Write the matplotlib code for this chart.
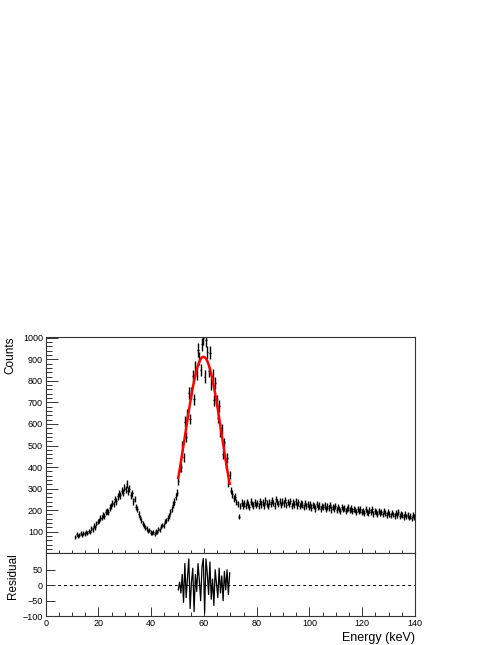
#!/usr/bin/env python3
from __future__ import annotations

import numpy as np
import matplotlib
matplotlib.use('Agg')
import matplotlib.pyplot as plt
from matplotlib.ticker import MultipleLocator

plt.rcParams['font.family'] = ['Liberation Sans', 'DejaVu Sans']

# histogram: 0.5 keV bins from 11 to 140 keV
BIN_LOW = 11.0
BIN_WIDTH = 0.5

counts = [
    76, 88, 79, 84, 92, 83, 95, 89, 98, 94,
    104, 98, 116, 111, 127, 121, 138, 146, 152, 163,
    165, 178, 172, 190, 198, 191, 212, 220, 234, 228,
    252, 241, 265, 276, 268, 290, 281, 305, 296, 322,
    289, 300, 268, 278, 241, 252, 214, 205, 182, 166,
    151, 138, 127, 118, 116, 104, 108, 96, 92, 99,
    90, 101, 97, 112, 108, 123, 131, 127, 146, 152,
    164, 172, 191, 205, 226, 240, 262, 281,
    335, 396, 398, 497, 446, 611, 541, 646, 745, 623,
    744, 823, 714, 862, 832, 943, 904, 851, 969, 998,
    820, 988, 932, 846, 931, 787, 825, 709, 791, 710,
    628, 683, 563, 578, 459, 514, 415, 442, 327, 362,
    290, 275, 255, 262, 238, 229, 170, 218, 235, 222,
    231, 219, 238, 226, 214, 240, 229, 221, 236, 225,
    233, 218, 241, 227, 236, 222, 245, 230, 219, 238,
    228, 246, 234, 221, 252, 237, 229, 243, 225, 239,
    232, 247, 224, 238, 229, 243, 220, 235, 227, 241,
    222, 236, 218, 231, 226, 213, 234, 220, 229, 215,
    227, 212, 224, 218, 208, 229, 215, 221, 206, 219,
    213, 222, 205, 217, 210, 224, 203, 214, 208, 219,
    201, 213, 207, 196, 215, 204, 210, 198, 206, 212,
    199, 208, 194, 205, 201, 190, 207, 196, 203, 192,
    198, 187, 204, 193, 185, 199, 191, 203, 184, 196,
    190, 182, 197, 186, 193, 180, 194, 185, 178, 191,
    184, 175, 189, 180, 172, 186, 178, 191, 174, 182,
    176, 168, 183, 171, 179, 165, 174, 162, 177, 169,
]

# fitted curve (red) read at the bin centres of the 50-70 keV fit range
FIT_RANGE = (50.0, 70.0)
fit_counts = [
    350, 386, 423, 462, 501, 541, 581, 621, 660, 698,
    734, 768, 799, 827, 852, 873, 889, 901, 909, 912,
    910, 903, 892, 876, 856, 832, 805, 774, 741, 705,
    668, 628, 588, 548, 509, 469, 430, 392, 357, 322,
]

x_ticks = [0, 20, 40, 60, 80, 100, 120, 140]
y_ticks = [100, 200, 300, 400, 500, 600, 700, 800, 900, 1000]
res_ticks = [-100, -50, 0, 50]


def style_axis(ax, ymajor_len, yminor_len, xmajor_len, xminor_len) -> None:
    for sp in ax.spines.values():
        sp.set_linewidth(0.8)
        sp.set_color('#333333')
    ax.tick_params(axis='both', which='both', direction='in', top=False, right=False,
                   labelsize=6.5, pad=2, width=0.7, color='#333333')
    ax.tick_params(axis='y', which='major', length=ymajor_len)
    ax.tick_params(axis='y', which='minor', length=yminor_len)
    ax.tick_params(axis='x', which='major', length=xmajor_len)
    ax.tick_params(axis='x', which='minor', length=xminor_len)


def main() -> None:
    y = np.array(counts, dtype=float)
    centers = BIN_LOW + BIN_WIDTH * (np.arange(len(y)) + 0.5)
    in_fit = (centers > FIT_RANGE[0]) & (centers < FIT_RANGE[1])
    fit_x = centers[in_fit]
    fit_y = np.array(fit_counts, dtype=float)
    residual = y[in_fit] - fit_y

    fig = plt.figure(figsize=(4.98, 6.45), dpi=100)
    ax1 = fig.add_axes([0.0918, 0.1426, 0.7415, 0.3354])
    ax2 = fig.add_axes([0.0918, 0.0445, 0.7415, 0.0981], sharex=ax1)

    ax1.errorbar(centers, y, xerr=BIN_WIDTH / 2, yerr=np.sqrt(y), fmt='none',
                 ecolor='black', elinewidth=1.0, capsize=0, zorder=2)
    ax1.plot(fit_x, fit_y, color='#ff0000', linewidth=1.8, zorder=3)
    ax1.set_xlim(0, 140)
    ax1.set_ylim(1, 1005)
    ax1.set_yticks(y_ticks)
    ax1.yaxis.set_minor_locator(MultipleLocator(20))
    ax1.set_xticks(x_ticks)
    ax1.xaxis.set_minor_locator(MultipleLocator(5))
    ax1.tick_params(axis='x', labelbottom=False)
    style_axis(ax1, 8.5, 4.3, 3.8, 2.2)
    ax1.set_ylabel('Counts', fontsize=8.5, loc='top', labelpad=5)

    ax2.axhline(0, color='black', linewidth=0.7, linestyle=(0, (3, 3)), zorder=1)
    ax2.plot(fit_x, residual, color='black', linewidth=0.9, zorder=2)
    ax2.set_ylim(-100, 104)
    ax2.set_yticks(res_ticks)
    ax2.set_yticklabels(['\u2212100', '\u221250', '0', '50'])
    ax2.set_xticks(x_ticks)
    ax2.xaxis.set_minor_locator(MultipleLocator(5))
    style_axis(ax2, 6.5, 0, 6.5, 3.2)
    ax2.set_ylabel('Residual', fontsize=8.5, loc='top', labelpad=3)
    ax2.set_xlabel('Energy (keV)', fontsize=9, loc='right', labelpad=3)

    fig.savefig('out.png', dpi=100)
    plt.close(fig)


if __name__ == '__main__':
    main()
